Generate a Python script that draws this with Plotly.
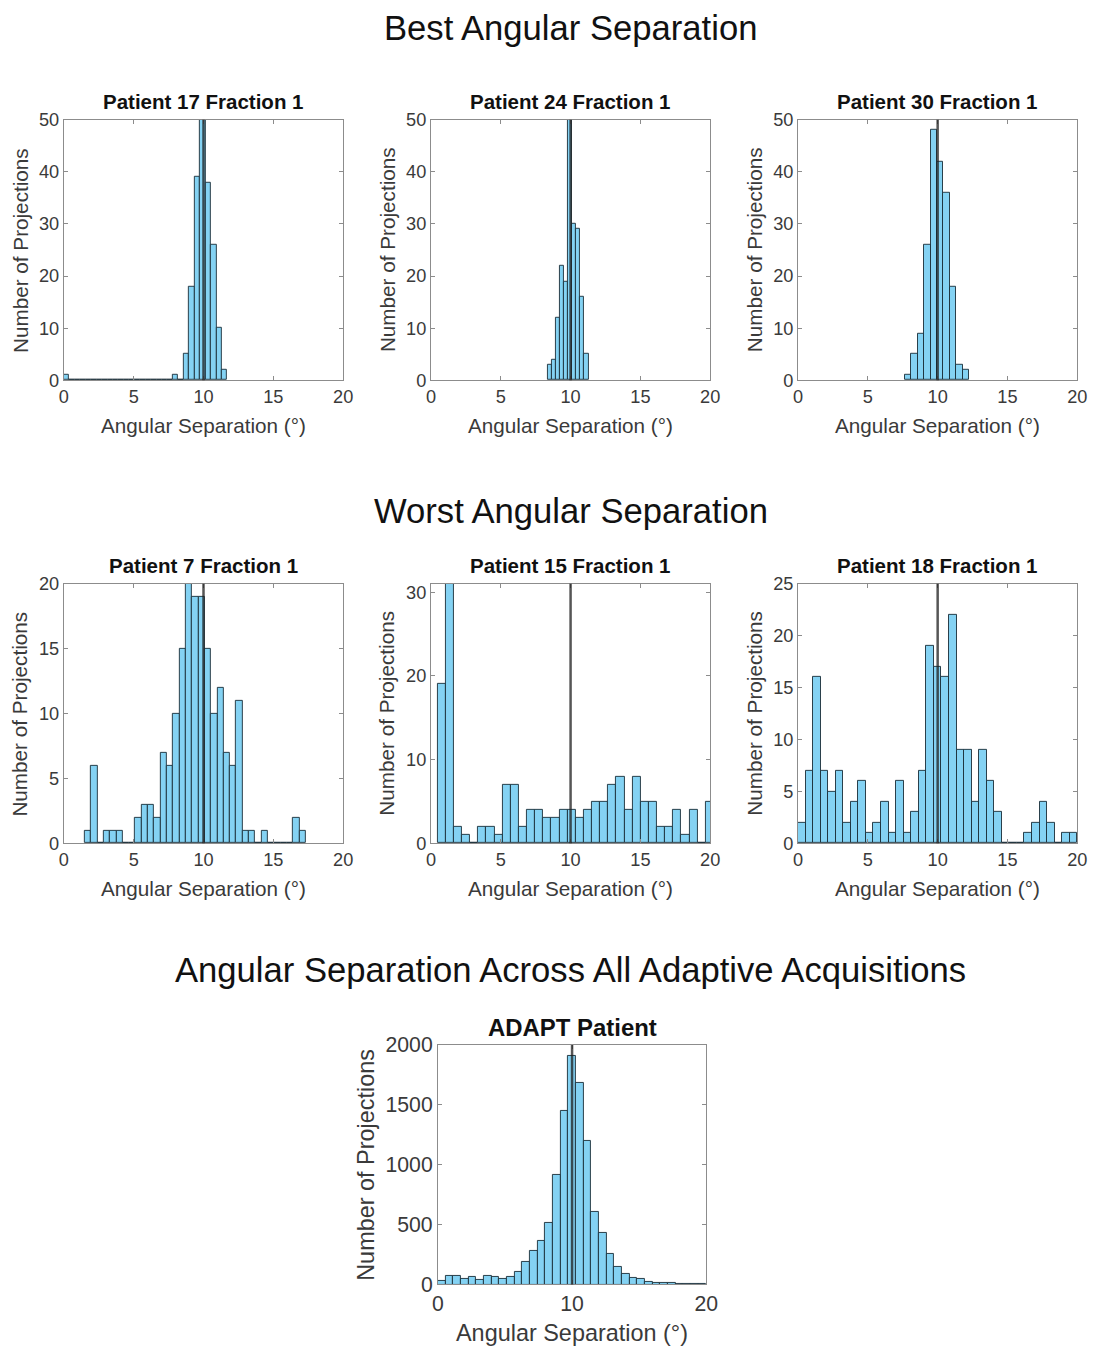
import numpy as np
import plotly.graph_objects as go

W, H = 1093, 1357

# ---------------- data ----------------
TARGET_SEPARATION = 10  # vertical reference line (degrees)

p17_start, p17_width = 0.0, 0.39
p17_counts = [1, 0, 0, 0, 0, 0, 0, 0, 0, 0, 0, 0, 0, 0, 0, 0, 0, 0, 0, 0,
              1, 0, 5, 18, 39, 62, 38, 26, 10, 2]

p24_start, p24_width = 8.38, 0.29
p24_counts = [3, 4, 12, 22, 19, 60, 30, 29, 16, 5]

p30_start, p30_width = 7.67, 0.457
p30_counts = [1, 5, 9, 26, 48, 42, 36, 18, 3, 2]

p7_start, p7_width = 1.5, 0.452
p7_counts = [1, 6, 0, 1, 1, 1, 0, 0, 2, 3, 3, 2, 7, 6, 10, 15, 20, 19, 19,
             15, 10, 12, 7, 6, 11, 1, 1, 0, 1, 0, 0, 0, 0, 2, 1]

p15_start, p15_width = 0.476, 0.582
p15_counts = [19, 31, 2, 1, 0, 2, 2, 1, 7, 7, 2, 4, 4, 3, 3, 4, 4, 3, 4, 5,
              5, 7, 8, 4, 8, 5, 5, 2, 2, 4, 1, 4, 0, 5]

p18_start, p18_width = 0.0, 20 / 37
p18_counts = [2, 7, 16, 7, 5, 7, 2, 4, 6, 1, 2, 4, 1, 6, 1, 3, 7, 19, 17, 16,
              22, 9, 9, 4, 9, 6, 3, 0, 0, 0, 1, 2, 4, 2, 0, 1, 1]

adapt_start, adapt_width = 0.0, 20 / 35
adapt_counts = [32, 68, 68, 46, 60, 35, 68, 60, 46, 60, 108, 184, 278, 360,
                514, 914, 1446, 1911, 1684, 1195, 608, 427, 257, 149, 89, 54,
                49, 22, 16, 14, 11, 8, 5, 8, 8]

panel_titles = ["Patient 17 Fraction 1", "Patient 24 Fraction 1", "Patient 30 Fraction 1",
                "Patient 7 Fraction 1", "Patient 15 Fraction 1", "Patient 18 Fraction 1",
                "ADAPT Patient"]
section_titles = ["Best Angular Separation", "Worst Angular Separation",
                  "Angular Separation Across All Adaptive Acquisitions"]
x_title = "Angular Separation (°)"
y_title = "Number of Projections"

y_ranges = [[0, 50], [0, 50], [0, 50], [0, 20], [0, 31], [0, 25], [0, 2000]]
y_dticks = [10, 10, 10, 5, 10, 5, 500]
x_dticks = [5, 5, 5, 5, 5, 5, 10]

panels = [
    (p17_start, p17_width, p17_counts),
    (p24_start, p24_width, p24_counts),
    (p30_start, p30_width, p30_counts),
    (p7_start, p7_width, p7_counts),
    (p15_start, p15_width, p15_counts),
    (p18_start, p18_width, p18_counts),
    (adapt_start, adapt_width, adapt_counts),
]

# ---------------- layout geometry ----------------
# target pixel boxes in the final picture: (left, right, top, bottom)
boxes = [
    (62, 342, 118, 379), (430, 710, 118, 379), (798, 1078, 118, 379),
    (62, 342, 583, 843), (430, 710, 583, 843), (798, 1078, 583, 843),
    (437, 706, 1045, 1285),
]
# calibration of page -> picture placement (measured in test renders)
SX, OX = 0.986, 4.0
SY, OY = 0.985, 10.0
FS = 1 / 0.99  # font compensation


def PX(p):
    return ((p - OX) / SX) / W


def PY(p):
    return 1 - ((p - OY) / SY) / H


BAR_FILL = "#84D2F3"
BAR_EDGE = "rgba(25,45,55,0.9)"
AXIS_COLOR = "#8c8c8c"
TEXT_COLOR = "#3a3a3a"
FONT = "Liberation Sans, Arial, sans-serif"

fig = go.Figure()
annotations = []
shapes = []

for i, ((start, width, counts), (l, r, t, b)) in enumerate(zip(panels, boxes)):
    n = i + 1
    xa = "x" if n == 1 else f"x{n}"
    ya = "y" if n == 1 else f"y{n}"
    counts = np.asarray(counts, dtype=float)
    centers = start + (np.arange(len(counts)) + 0.5) * width
    fig.add_trace(go.Bar(
        x=centers, y=counts, width=width,
        marker=dict(color=BAR_FILL, line=dict(color=BAR_EDGE, width=1)),
        xaxis=xa, yaxis=ya, showlegend=False,
        hovertemplate="%{x:.2f}°: %{y}<extra></extra>",
    ))
    big = (n == 7)
    tick_size = (21 if big else 18) * FS
    lab_size = (23.2 if big else 20.5) * FS
    title_size = (23.7 if big else 20.3) * FS
    axis_common = dict(
        showline=True, linecolor=AXIS_COLOR, linewidth=1, mirror="ticks",
        ticks="inside", ticklen=4, tickcolor=AXIS_COLOR, showgrid=False,
        zeroline=False, tickfont=dict(family=FONT, size=tick_size, color=TEXT_COLOR),
    )
    fig.update_layout(**{
        ("xaxis" if n == 1 else f"xaxis{n}"): dict(
            domain=[PX(l), PX(r)], anchor=ya, range=[0, 20], dtick=x_dticks[i],
            tick0=0, **axis_common),
        ("yaxis" if n == 1 else f"yaxis{n}"): dict(
            domain=[PY(b), PY(t)], anchor=xa, range=y_ranges[i],
            dtick=y_dticks[i], tick0=0, **axis_common),
    })
    # reference line at the target separation
    shapes.append(dict(type="line", xref=xa, yref=f"{ya} domain",
                       x0=TARGET_SEPARATION, x1=TARGET_SEPARATION, y0=0, y1=1,
                       line=dict(color="rgba(30,30,30,0.75)", width=2.5)))
    cxp = (l + r) / 2
    cyp = (t + b) / 2
    # panel title
    annotations.append(dict(text=f"<b>{panel_titles[i]}</b>", x=PX(cxp),
                            y=PY(t - (17 if big else 18.5)),
                            xref="paper", yref="paper", showarrow=False,
                            xanchor="center", yanchor="middle",
                            font=dict(family=FONT, size=title_size, color="#111111")))
    # x axis title (the bottom one is kept fully inside the page)
    if big:
        x_title_y = 1 - 1344 / H
    else:
        x_title_y = PY(b + 45)
    annotations.append(dict(text=x_title, x=PX(cxp), y=x_title_y,
                            xref="paper", yref="paper", showarrow=False,
                            xanchor="center", yanchor="middle",
                            font=dict(family=FONT, size=lab_size, color=TEXT_COLOR)))
    # y axis title
    annotations.append(dict(text=y_title, x=PX(l - (72 if big else 44)), y=PY(cyp),
                            xref="paper", yref="paper", showarrow=False,
                            xanchor="center", yanchor="middle", textangle=-90,
                            font=dict(family=FONT, size=lab_size, color=TEXT_COLOR)))

for txt, ypx in zip(section_titles, [26, 510, 970]):
    annotations.append(dict(text=txt, x=PX(570), y=PY(ypx), xref="paper", yref="paper",
                            showarrow=False, xanchor="center", yanchor="middle",
                            font=dict(family=FONT, size=34.3 * FS, color="#111111")))

fig.update_layout(
    width=W, height=H, margin=dict(l=0, r=0, t=0, b=0),
    paper_bgcolor="white", plot_bgcolor="white", bargap=0,
    annotations=annotations, shapes=shapes,
    font=dict(family=FONT, color=TEXT_COLOR),
)

fig.write_html(
    "out.html",
    config={"displayModeBar": False},
    post_script="document.body.style.margin='0';document.body.style.overflow='hidden';",
)
